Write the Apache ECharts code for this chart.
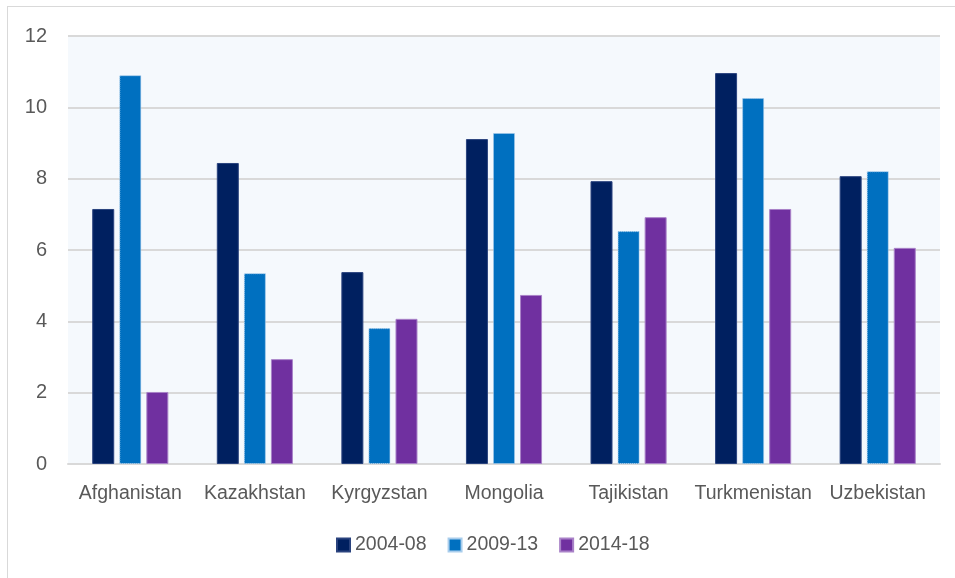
<!DOCTYPE html>
<html>
<head>
<meta charset="utf-8">
<script src="https://cdn.jsdelivr.net/npm/echarts@6/dist/echarts.min.js"></script>
<style>
  html, body { margin: 0; padding: 0; background: #fff; }
  #frame { position: absolute; left: 7px; top: 6px; width: 960px; height: 590px; border: 1px solid #d9d9d9; box-sizing: border-box; }
  #chart { position: absolute; left: 0; top: 0; width: 955px; height: 578px; }
</style>
</head>
<body>
<div id="frame"></div>
<div id="chart"></div>
<script>
const countries = ["Afghanistan", "Kazakhstan", "Kyrgyzstan", "Mongolia", "Tajikistan", "Turkmenistan", "Uzbekistan"];
const p2004 = [7.15, 8.44, 5.38, 9.11, 7.93, 10.96, 8.07];
const p2009 = [10.9, 5.35, 3.81, 9.28, 6.53, 10.26, 8.21];
const p2014 = [2.02, 2.94, 4.07, 4.74, 6.92, 7.15, 6.06];

const labelFont = "'Liberation Sans', Arial, sans-serif";

const myChart = echarts.init(document.getElementById("chart"));

// 柱子样式
function barSeries(name, data, color, border, dotted) {
  return {
    name: name,
    type: "bar",
    data: data,
    barWidth: 22,
    barGap: "23%",
    itemStyle: {
      color: color,
      borderColor: border,
      borderWidth: 1,
      borderType: dotted ? "dotted" : "solid",
    },
  };
}

let option = {
  animation: false,
  backgroundColor: "transparent",
  grid: {
    left: 68,
    right: 15,
    top: 36,
    bottom: 114,
    show: true,
    backgroundColor: "#F5F9FD",
    borderWidth: 0,
  },
  legend: {
    bottom: 18,
    left: 331,
    itemWidth: 13,
    itemHeight: 13,
    itemGap: 21,
    icon: "rect",
    textStyle: { color: "#595959", fontSize: 19.5, fontFamily: labelFont },
    data: ["2004-08", "2009-13", "2014-18"],
  },
  xAxis: {
    type: "category",
    data: countries,
    axisLine: { lineStyle: { color: "#d9d9d9", width: 2 } },
    axisTick: { show: false },
    axisLabel: { color: "#595959", fontSize: 19.5, fontFamily: labelFont, margin: 20, interval: 0 },
  },
  yAxis: {
    type: "value",
    min: 0,
    max: 12,
    interval: 2,
    axisLine: { show: false },
    axisTick: { show: false },
    splitLine: { lineStyle: { color: "#d9d9d9", width: 2 } },
    axisLabel: { color: "#595959", fontSize: 20, fontFamily: labelFont, margin: 21 },
  },
  series: [
    barSeries("2004-08", p2004, "#002060", "#2a437e", false),
    barSeries("2009-13", p2009, "#0070C0", "#a9cdec", true),
    barSeries("2014-18", p2014, "#7030A0", "#a982c8", false),
  ],
};
myChart.setOption(option);
</script>
</body>
</html>
